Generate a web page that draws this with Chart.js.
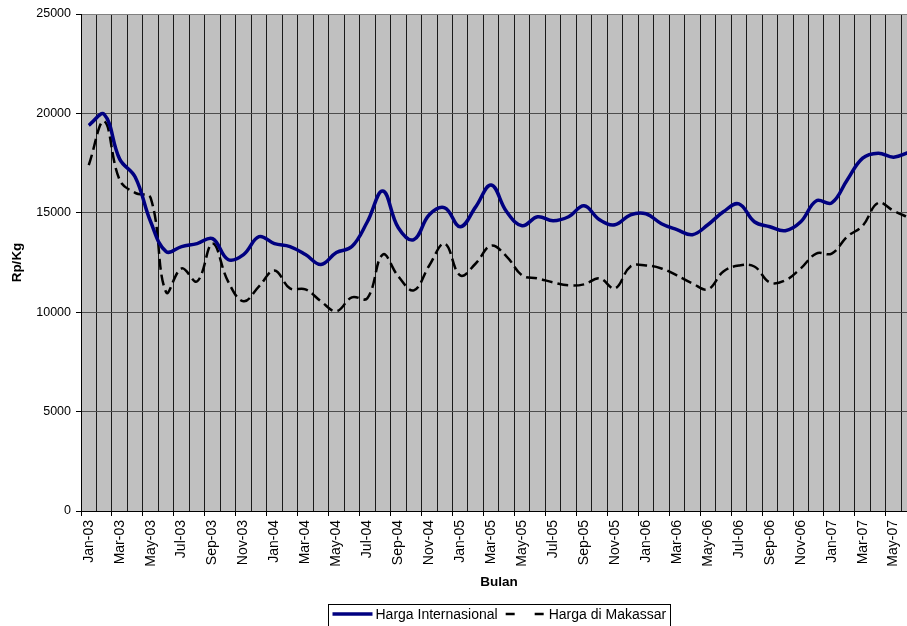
<!DOCTYPE html>
<html lang="id">
<head>
<meta charset="UTF-8">
<title>Harga Internasional dan Harga di Makassar</title>
<script src="https://cdn.jsdelivr.net/npm/chart.js@4.4.0/dist/chart.umd.min.js"></script>
<style>
  html, body { margin: 0; padding: 0; background: #fff; overflow: hidden; }
  canvas { display: block; }
</style>
</head>
<body>
<canvas id="chart" width="930" height="640"></canvas>
<script>
// bulan Jan-03 .. Jun-07 (the last one is cut off at the right edge)
const bulan = [
  'Jan-03','Feb-03','Mar-03','Apr-03','May-03','Jun-03','Jul-03','Aug-03','Sep-03','Oct-03','Nov-03','Dec-03',
  'Jan-04','Feb-04','Mar-04','Apr-04','May-04','Jun-04','Jul-04','Aug-04','Sep-04','Oct-04','Nov-04','Dec-04',
  'Jan-05','Feb-05','Mar-05','Apr-05','May-05','Jun-05','Jul-05','Aug-05','Sep-05','Oct-05','Nov-05','Dec-05',
  'Jan-06','Feb-06','Mar-06','Apr-06','May-06','Jun-06','Jul-06','Aug-06','Sep-06','Oct-06','Nov-06','Dec-06',
  'Jan-07','Feb-07','Mar-07','Apr-07','May-07','Jun-07'
];

// Rp/Kg
const hargaInternasional = [
  19400, 19950, 17700, 16800, 14550, 13050, 13300, 13450, 13700, 12650, 12900, 13800,
  13450, 13300, 12900, 12400, 13000, 13300, 14550, 16100, 14250, 13650, 14900, 15250,
  14300, 15300, 16400, 15050, 14350, 14800, 14600, 14800, 15350, 14650, 14400, 14900,
  14950, 14450, 14150, 13900, 14400, 15050, 15450, 14550, 14300, 14100, 14550, 15600,
  15500, 16650, 17750, 18000, 17800, 18050
];

const hargaMakassar = [
  17400, 19600, 16650, 16000, 15750, 11000, 12200, 11550, 13450, 11550, 10550, 11300,
  12100, 11200, 11150, 10550, 10050, 10750, 10700, 12900, 11800, 11100, 12350, 13450,
  11850, 12450, 13350, 12800, 11850, 11700, 11500, 11350, 11400, 11700, 11200, 12300,
  12350, 12200, 11850, 11450, 11150, 12050, 12350, 12300, 11500, 11600, 12200, 12950,
  12950, 13800, 14350, 15500, 15100, 14750
];

const yTicks = [0, 5000, 10000, 15000, 20000, 25000];

Chart.defaults.font.family = '"Liberation Sans", Arial, sans-serif';
Chart.defaults.color = '#000';

// grey plot area like the old Excel charts
const plotBackground = {
  id: 'plotBackground',
  beforeDraw(chart) {
    const { ctx, chartArea: a } = chart;
    ctx.save();
    ctx.fillStyle = '#c0c0c0';
    ctx.fillRect(a.left, a.top, a.right - a.left, a.bottom - a.top);
    ctx.restore();
  }
};

// boxed legend under the axis title
const bottomLegend = {
  id: 'bottomLegend',
  afterDraw(chart) {
    const { ctx, chartArea: a } = chart;
    const sets = chart.data.datasets;
    const sample = 40;
    ctx.save();
    ctx.font = '14px "Liberation Sans", Arial, sans-serif';
    const widths = sets.map(d => ctx.measureText(d.label).width);
    let total = 8 + 8 * (sets.length - 1);
    sets.forEach((d, i) => { total += sample + 3 + widths[i]; });
    let x = Math.round((a.left + a.right) / 2 - total / 2) + 0.5;
    const top = a.bottom + 93.5;
    const y = top + 9.5;
    ctx.strokeStyle = '#000';
    ctx.lineWidth = 1;
    ctx.strokeRect(x, top, Math.round(total), 22);
    x += 4;
    sets.forEach((d, i) => {
      ctx.beginPath();
      ctx.strokeStyle = d.borderColor;
      ctx.lineWidth = d.borderWidth;
      ctx.setLineDash(d.borderDash ? [9, 20] : []);
      ctx.moveTo(x, y);
      ctx.lineTo(x + sample, y);
      ctx.stroke();
      ctx.setLineDash([]);
      ctx.fillStyle = '#000';
      ctx.textAlign = 'left';
      ctx.textBaseline = 'middle';
      ctx.fillText(d.label, x + sample + 3, y + 1);
      x += sample + 3 + widths[i] + 8;
    });
    ctx.restore();
  }
};

const ctx = document.getElementById('chart').getContext('2d');

new Chart(ctx, {
  type: 'line',
  data: {
    labels: bulan,
    datasets: [{
      label: 'Harga Internasional',
      data: hargaInternasional,
      borderColor: '#000080',
      borderWidth: 3.5,
      tension: 0.4,
      pointRadius: 0,
      fill: false
    }, {
      label: 'Harga di Makassar',
      data: hargaMakassar,
      borderColor: '#000000',
      borderWidth: 2.5,
      borderDash: [11, 5],
      tension: 0.4,
      pointRadius: 0,
      fill: false
    }]
  },
  options: {
    responsive: false,
    animation: false,
    layout: { padding: { left: 0, right: 9, top: 14, bottom: 49 } },
    plugins: {
      legend: { display: false },
      tooltip: { enabled: false }
    },
    scales: {
      x: {
        type: 'category',
        offset: true,
        grid: {
          offset: true,
          color: '#1a1a1a',
          tickLength: 5,
          tickColor: c => (c.index % 2 === 0 ? '#000' : 'rgba(0,0,0,0)')
        },
        border: { color: '#000' },
        ticks: {
          autoSkip: false,
          minRotation: 90,
          maxRotation: 90,
          padding: 4,
          font: { size: 14 },
          callback: function (v, i) { return i % 2 === 0 ? this.getLabelForValue(v) : ''; }
        },
        title: {
          display: true,
          text: 'Bulan',
          font: { size: 13.5, weight: 'bold' },
          padding: { top: 4, bottom: 1 }
        },
        afterFit: s => { s.height = 80; }
      },
      y: {
        min: 0,
        max: 25000,
        afterBuildTicks: s => { s.ticks = yTicks.map(v => ({ value: v })); },
        grid: {
          color: c => (c.tick && c.tick.value === 25000 ? '#808080' : '#4d4d4d'),
          tickLength: 5,
          tickColor: '#000'
        },
        border: { color: '#000' },
        ticks: {
          padding: 5,
          font: { size: 12.5 },
          callback: v => String(v)
        },
        title: {
          display: true,
          text: 'Rp/Kg',
          font: { size: 13.5, weight: 'bold' },
          padding: { top: 9, bottom: 0 }
        },
        afterFit: s => { s.width = 81; }
      }
    }
  },
  plugins: [plotBackground, bottomLegend]
});
</script>
</body>
</html>
